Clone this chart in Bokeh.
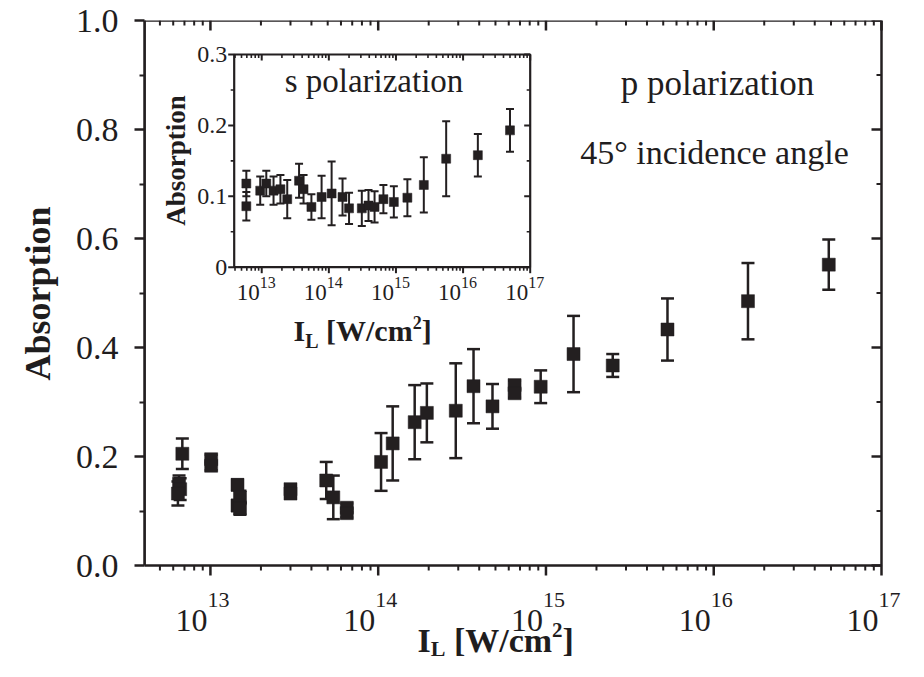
import math
from bokeh.plotting import figure
from bokeh.models import (Range1d, LogScale, LinearScale, FixedTicker, Title,
                          PrintfTickFormatter, ColumnDataSource, LabelSet, Label)
from bokeh.embed import file_html
from bokeh.resources import INLINE

# ---------------- data ----------------
# main panel: p polarization, 45 deg incidence
p_intensity = [6.5e12, 6.6e12, 6.4e12, 6.8e12, 1.01e13, 1.01e13,
               1.45e13, 1.5e13, 1.45e13, 1.5e13, 3.0e13, 3.0e13,
               4.9e13, 5.4e13, 6.5e13, 6.5e13, 1.04e14, 1.22e14,
               1.65e14, 1.95e14, 2.9e14, 3.7e14, 4.8e14, 6.5e14, 6.5e14,
               9.3e14, 1.46e15, 2.5e15, 5.3e15, 1.6e16, 4.85e16]
p_absorption = [0.150, 0.140, 0.132, 0.205, 0.195, 0.183,
                0.148, 0.125, 0.110, 0.105, 0.140, 0.132,
                0.156, 0.125, 0.106, 0.096, 0.190, 0.224,
                0.263, 0.280, 0.284, 0.329, 0.292, 0.331, 0.316,
                0.328, 0.388, 0.367, 0.433, 0.485, 0.552]
p_error = [0.015, 0.020, 0.022, 0.028, 0.008, 0.008,
           0.010, 0.012, 0.010, 0.012, 0.006, 0.006,
           0.034, 0.040, 0.008, 0.008, 0.053, 0.068,
           0.068, 0.054, 0.087, 0.068, 0.041, 0.008, 0.008,
           0.030, 0.070, 0.021, 0.057, 0.070, 0.046]

# inset: s polarization
s_intensity = [5.9e12, 5.9e12, 9.5e12, 1.17e13, 1.5e13, 1.9e13,
               2.4e13, 3.6e13, 4.2e13, 5.5e13, 7.8e13, 1.1e14,
               1.6e14, 2.0e14, 3.1e14, 3.9e14, 4.8e14, 6.5e14,
               9.3e14, 1.48e15, 2.6e15, 5.6e15, 1.66e16, 5.0e16]
s_absorption = [0.118, 0.086, 0.108, 0.118, 0.108, 0.110,
                0.096, 0.122, 0.110, 0.085, 0.099, 0.104,
                0.099, 0.083, 0.083, 0.087, 0.085, 0.096,
                0.092, 0.098, 0.116, 0.153, 0.158, 0.193]
s_error = [0.018, 0.020, 0.020, 0.018, 0.020, 0.020,
           0.027, 0.024, 0.020, 0.018, 0.030, 0.045,
           0.026, 0.022, 0.025, 0.022, 0.022, 0.020,
           0.022, 0.026, 0.039, 0.053, 0.030, 0.030]

x_decades = [13, 14, 15, 16, 17]
main_y_ticks = [0.0, 0.2, 0.4, 0.6, 0.8, 1.0]
inset_y_ticks = [0.0, 0.1, 0.2, 0.3]
inset_y_labels = ["0", "0.1", "0.2", "0.3"]

# ---------------- style / layout (canvas px) ----------------
INK = "#231f20"
TXT = "#1f1d1e"
SERIF = "Liberation Serif"

CANVAS_W, CANVAS_H = 908, 661
FRAME_LEFT, FRAME_TOP = 142, 20
FRAME_W = CANVAS_W - FRAME_LEFT           # frame reaches the canvas right edge
FRAME_H = CANVAS_H - FRAME_TOP            # ... and the canvas bottom
PLOT_RIGHT_PX, AXIS_Y0_PX = 879, 565      # where 1e17 and absorption = 0 sit
X_LOG0, X_LOG1 = 12.607, 17.0
Y_TOP = 1.0
DEC_PX = (PLOT_RIGHT_PX - FRAME_LEFT) / (X_LOG1 - X_LOG0)
X_LOG_EDGE = X_LOG1 + (CANVAS_W - PLOT_RIGHT_PX) / DEC_PX
Y_BOT = -Y_TOP * (CANVAS_H - AXIS_Y0_PX) / (AXIS_Y0_PX - FRAME_TOP)
INSET_BOX = (231.7, 54.0, 527.7, 266.7)   # left, top, right, bottom
INSET_XLOG = (12.59, 17.0)
INSET_Y = (0.0, 0.3)


def main_x(cx):
    return 10 ** (X_LOG0 + (cx - FRAME_LEFT) / DEC_PX)


def main_y(cy):
    return Y_BOT + (FRAME_TOP + FRAME_H - cy) / FRAME_H * (Y_TOP - Y_BOT)


p = figure(x_axis_type="log", x_range=Range1d(10 ** X_LOG0, 10 ** X_LOG_EDGE),
           y_range=Range1d(Y_BOT, Y_TOP), x_axis_location=None,
           frame_width=FRAME_W, frame_height=FRAME_H,
           min_border_left=FRAME_LEFT, min_border_top=FRAME_TOP,
           min_border_right=0, min_border_bottom=0,
           output_backend="svg", toolbar_location=None,
           background_fill_color="white", border_fill_color="white")
p.grid.visible = False
p.outline_line_color = None


def text_at(cx, cy, text, size, align="center", bold=False, dy=0):
    src = ColumnDataSource(dict(x=[main_x(cx)], y=[main_y(cy)], t=[text]))
    p.add_layout(LabelSet(x="x", y="y", text="t", source=src, y_offset=dy,
                          text_font=SERIF, text_font_style="bold" if bold else "normal",
                          text_font_size=f"{size}px", text_color=TXT,
                          text_align=align, text_baseline="alphabetic"))


# ---- left axis (library axis, limited to 0..1) ----
yax = p.yaxis[0]
y_minor = [(a + b) / 2 for a, b in zip(main_y_ticks, main_y_ticks[1:])]
yax.ticker = FixedTicker(ticks=main_y_ticks, minor_ticks=y_minor)
yax.formatter = PrintfTickFormatter(format="%.1f")
yax.bounds = (main_y_ticks[0], main_y_ticks[-1])
yax.axis_line_color = INK
yax.axis_line_width = 2.5
yax.major_tick_line_color = INK
yax.major_tick_line_width = 2.5
yax.minor_tick_line_color = INK
yax.minor_tick_line_width = 2
yax.major_tick_out, yax.major_tick_in = 10, 0
yax.minor_tick_out, yax.minor_tick_in = 5, 0
yax.major_label_text_font = SERIF
yax.major_label_text_font_size = "34px"
yax.major_label_text_color = TXT
yax.major_label_standoff = 16

p.add_layout(Title(text="Absorption", align="left", offset=CANVAS_H - 380, standoff=30,
                   text_font=SERIF, text_font_style="bold", text_font_size="36px",
                   text_color=TXT), "left")

# ---- frame box and the other three sides' ticks ----
x_major = [10.0 ** k for k in x_decades]
x_minor = [m * 10.0 ** k for k in range(12, 17) for m in range(2, 10)
           if 10 ** X_LOG0 < m * 10.0 ** k < 10 ** X_LOG1]
p.quad(left=[10 ** X_LOG0], right=[10 ** X_LOG1], bottom=[0.0], top=[Y_TOP],
       fill_color=None, line_color=INK, line_width=2.5)
for xs, ys, ln, ang, lw in [
        (x_major, [0.0] * len(x_major), 10, -math.pi / 2, 2.5),       # bottom, outward
        (x_minor, [0.0] * len(x_minor), 5, -math.pi / 2, 2),
        (x_major, [Y_TOP] * len(x_major), 10, -math.pi / 2, 2.5),     # top, inward
        (x_minor, [Y_TOP] * len(x_minor), 5, -math.pi / 2, 2),
        ([10 ** X_LOG1] * len(main_y_ticks), main_y_ticks, 10, math.pi, 2.5),  # right, inward
        ([10 ** X_LOG1] * len(y_minor), y_minor, 5, math.pi, 2)]:
    p.ray(x=xs, y=ys, length=ln, length_units="screen", angle=ang,
          line_color=INK, line_width=lw)

# bottom tick labels 10^n
main_base = ColumnDataSource(dict(x=x_major, y=[0.0] * len(x_major), t=["10"] * len(x_major),
                                  e=[str(k) for k in x_decades]))
p.add_layout(LabelSet(x="x", y="y", text="t", source=main_base, x_offset=-3, y_offset=-65,
                      text_font=SERIF, text_font_size="32px", text_color=TXT,
                      text_align="right", text_baseline="alphabetic"))
p.add_layout(LabelSet(x="x", y="y", text="e", source=main_base, x_offset=-3, y_offset=-41,
                      text_font=SERIF, text_font_size="22px", text_color=TXT,
                      text_align="left", text_baseline="alphabetic"))

# ---- main data ----
main_src = ColumnDataSource(dict(
    x=p_intensity, y=p_absorption,
    lo=[a - e for a, e in zip(p_absorption, p_error)],
    hi=[a + e for a, e in zip(p_absorption, p_error)]))
p.segment(x0="x", y0="lo", x1="x", y1="hi", source=main_src, line_color=INK, line_width=2.5)
p.scatter(x="x", y="lo", source=main_src, marker="dash", size=13, line_color=INK, line_width=2.5)
p.scatter(x="x", y="hi", source=main_src, marker="dash", size=13, line_color=INK, line_width=2.5)
p.scatter(x="x", y="y", source=main_src, marker="square", size=13,
          fill_color=INK, line_color=INK, line_width=0.5)

# ---- composite bold labels I_L [W/cm^2] ----
BOLD_W = {"I": 389, "L": 667, " ": 250, "[": 333, "W": 1000, "/": 278,
          "c": 444, "m": 833, "2": 500, "]": 333}


def piece_label(start_cx, base_cy, pieces):
    cx = start_cx
    for text, size, dy in pieces:
        if text.strip():
            text_at(cx, base_cy, text, size, align="left", bold=True, dy=dy)
        cx += sum(BOLD_W[c] for c in text) * size / 1000


piece_label(415, 651, [("I", 34, 0), ("L", 22, -4), (" ", 34, 0), ("[W/cm", 34, 0),
                       ("2", 21, 15), ("]", 34, 0)])

text_at(715, 94, "p polarization", 35)
text_at(712, 163, "45\u00b0 incidence angle", 34)

# ---------------- inset (s polarization) ----------------
ibl, ibt, ibr, ibb = INSET_BOX
fx0 = (ibl - FRAME_LEFT) / FRAME_W
fx1 = (ibr - FRAME_LEFT) / FRAME_W
fyb = (FRAME_TOP + FRAME_H - ibb) / FRAME_H
fyt = (FRAME_TOP + FRAME_H - ibt) / FRAME_H
lspan = (INSET_XLOG[1] - INSET_XLOG[0]) / (fx1 - fx0)
ix_lo = INSET_XLOG[0] - fx0 * lspan
yspan = (INSET_Y[1] - INSET_Y[0]) / (fyt - fyb)
iy_lo = INSET_Y[0] - fyb * yspan
p.extra_x_ranges = {"ix": Range1d(10 ** ix_lo, 10 ** (ix_lo + lspan))}
p.extra_x_scales = {"ix": LogScale()}
p.extra_y_ranges = {"iy": Range1d(iy_lo, iy_lo + yspan)}
p.extra_y_scales = {"iy": LinearScale()}
IN = dict(x_range_name="ix", y_range_name="iy")

ix0, ix1 = 10 ** INSET_XLOG[0], 10 ** INSET_XLOG[1]
p.quad(left=[ix0], right=[ix1], bottom=[INSET_Y[0]], top=[INSET_Y[1]],
       fill_color="white", line_color=INK, line_width=2.2, **IN)

ix_minor = [m * 10.0 ** k for k in range(12, 17) for m in range(2, 10) if ix0 < m * 10.0 ** k < ix1]
iy_minor = [(a + b) / 2 for a, b in zip(inset_y_ticks, inset_y_ticks[1:])]
for xs, ys, ln, ang, lw in [
        (x_major, [INSET_Y[0]] * 5, 6, -math.pi / 2, 2),
        (ix_minor, [INSET_Y[0]] * len(ix_minor), 3.5, -math.pi / 2, 1.6),
        (x_major, [INSET_Y[1]] * 5, 6, -math.pi / 2, 2),
        (ix_minor, [INSET_Y[1]] * len(ix_minor), 3.5, -math.pi / 2, 1.6),
        ([ix0] * 4, inset_y_ticks, 6, math.pi, 2),
        ([ix0] * 3, iy_minor, 3.5, math.pi, 1.6),
        ([ix1] * 4, inset_y_ticks, 6, math.pi, 2),
        ([ix1] * 3, iy_minor, 3.5, math.pi, 1.6)]:
    p.ray(x=xs, y=ys, length=ln, length_units="screen", angle=ang,
          line_color=INK, line_width=lw, **IN)

ins_src = ColumnDataSource(dict(
    x=s_intensity, y=s_absorption,
    lo=[a - e for a, e in zip(s_absorption, s_error)],
    hi=[a + e for a, e in zip(s_absorption, s_error)]))
p.segment(x0="x", y0="lo", x1="x", y1="hi", source=ins_src, line_color=INK, line_width=2, **IN)
p.scatter(x="x", y="lo", source=ins_src, marker="dash", size=8, line_color=INK, line_width=2, **IN)
p.scatter(x="x", y="hi", source=ins_src, marker="dash", size=8, line_color=INK, line_width=2, **IN)
p.scatter(x="x", y="y", source=ins_src, marker="square", size=9,
          fill_color=INK, line_color=INK, line_width=0.5, **IN)

base_src = ColumnDataSource(dict(x=x_major, y=[INSET_Y[0]] * 5, t=["10"] * 5,
                                 e=[str(k) for k in x_decades]))
p.add_layout(LabelSet(x="x", y="y", text="t", source=base_src, x_offset=-2, y_offset=-33,
                      text_font=SERIF, text_font_size="23px", text_color=TXT,
                      text_align="right", text_baseline="alphabetic", **IN))
p.add_layout(LabelSet(x="x", y="y", text="e", source=base_src, x_offset=-2, y_offset=-21,
                      text_font=SERIF, text_font_size="16px", text_color=TXT,
                      text_align="left", text_baseline="alphabetic", **IN))
ylab_src = ColumnDataSource(dict(x=[ix0] * 4, y=inset_y_ticks, t=inset_y_labels))
p.add_layout(LabelSet(x="x", y="y", text="t", source=ylab_src, x_offset=-7,
                      text_font=SERIF, text_font_size="24px", text_color=TXT,
                      text_align="right", text_baseline="middle", **IN))

p.add_layout(Label(x=main_x(173), y=main_y(160), text="Absorption", angle=math.pi / 2,
                   text_font=SERIF, text_font_style="bold", text_font_size="27px",
                   text_color=TXT, text_align="center", text_baseline="middle"))
piece_label(291, 340, [("I", 30, 0), ("L", 20, -7), (" ", 30, 0), ("[W/cm", 30, 0),
                       ("2", 18, 12), ("]", 30, 0)])
text_at(371.5, 91, "s polarization", 33)

open("out.html", "w").write(file_html(p, INLINE))
